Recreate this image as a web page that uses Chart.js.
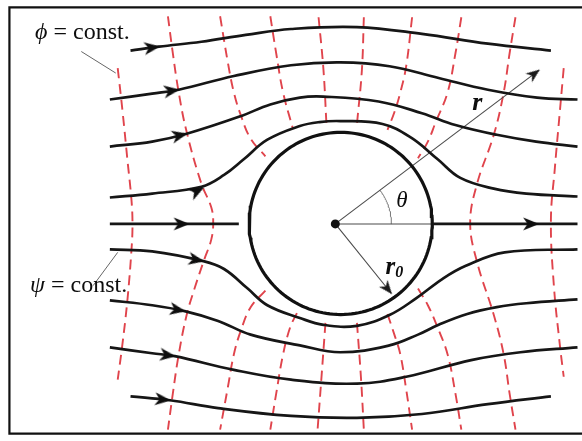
<!DOCTYPE html>
<html>
<head>
<meta charset="utf-8">
<script src="https://cdn.jsdelivr.net/npm/chart.js@4/dist/chart.umd.min.js"></script>
<style>
  html, body { margin: 0; padding: 0; background: #ffffff; }
  #wrap { width: 582px; height: 441px; }
</style>
</head>
<body>
<div id="wrap"><canvas id="flow" width="582" height="441"></canvas></div>
<script>
// Potential flow past a cylinder: streamlines (psi = const.) and
// equipotential lines (phi = const.). Origin on the cylinder axis, y upward,
// one unit is roughly one pixel of the drawing.

// Streamlines, top to bottom
const psi1 = [[-208,177],[-179,181],[-136,186],[-91,193],[-45,199],[22,201],[88,194],[155,184],[219,177]];
const psi2 = [[-229,127],[-186,133],[-159,137],[-103,151],[-45,162],[5,165],[55,161],[105,149],[155,137],[205,129],[246,127]];
const psi3 = [[-229,79],[-186,84],[-151,92],[-96,110],[-66,122],[-36,129],[-12,130],[44,125],[88,113],[122,101],[164,91],[204,84],[246,79]];
const psi4 = [[-229,27],[-186,31],[-136,38],[-113,50],[-93,66],[-69,86],[-36,100],[-16,104],[5,105],[48,102],[77,88],[104,66],[127,47],[161,36],[194,31],[246,28]];
const psi5Upstream = [[-229,0],[-98,0]];
const psi5Downstream = [[99,0],[246,0]];
const psi6 = [[-229,-26],[-186,-28],[-134,-38],[-113,-46],[-89,-66],[-69,-83],[-36,-96],[-12,-103],[22,-104],[55,-93],[82,-76],[109,-56],[132,-43],[172,-29],[246,-26]];
const psi7 = [[-229,-78],[-186,-83],[-153,-89],[-119,-99],[-86,-113],[-36,-124],[5,-131],[55,-124],[84,-113],[105,-103],[134,-92],[164,-85],[194,-81],[246,-77]];
const psi8 = [[-229,-126],[-186,-132],[-163,-135],[-103,-149],[-45,-159],[22,-163],[72,-156],[138,-139],[188,-131],[246,-126]];
const psi9 = [[-208,-176],[-168,-180],[-119,-188],[-45,-196],[22,-198],[88,-194],[155,-184],[219,-176]];

// Arrow tips placed on the streamlines (flow from left to right)
const arrowTips = [[-179,181],[-159,137],[-151,92],[-134,37],[-149,0],[206,0],[-134,-38],[-153,-89],[-163,-135],[-168,-180]];

// Equipotential lines, left to right (split above / below the cylinder)
const phiA = [[-221,159],[-216,114],[-211,64],[-207,24],[-206,-1],[-207,-26],[-211,-76],[-216,-121],[-221,-159]];
const phiB = [[-170,212],[-165,174],[-159,134],[-151,94],[-136,41],[-126,17],[-124,1],[-126,-16],[-133,-36],[-143,-66],[-151,-93],[-159,-133],[-165,-173],[-170,-210]];
const phiCTop = [[-117,212],[-109,164],[-103,134],[-96,111],[-86,87],[-71,69]];
const phiCBottom = [[-71,-68],[-86,-85],[-96,-109],[-103,-133],[-109,-166],[-117,-210]];
const phiDTop = [[-66,212],[-60,174],[-53,134],[-43,97]];
const phiDBottom = [[-39,-91],[-46,-106],[-53,-133],[-60,-173],[-66,-210]];
const phiETop = [[-17,211],[-12,157],[-9,102]];
const phiEBottom = [[-10,-101],[-14,-156],[-18,-210]];
const phiFTop = [[29,211],[27,157],[22,102]];
const phiFBottom = [[22,-101],[26,-156],[29,-210]];
const phiGTop = [[78,211],[72,161],[66,134],[60,114],[53,96]];
const phiGBottom = [[53,-92],[60,-113],[66,-133],[72,-169],[78,-210]];
const phiHTop = [[128,211],[122,174],[114,134],[102,104],[94,84],[84,67]];
const phiHBottom = [[84,-66],[94,-83],[104,-106],[114,-133],[122,-173],[128,-210]];
const phiI = [[183,211],[177,174],[171,134],[161,91],[144,41],[137,1],[144,-39],[161,-93],[171,-133],[177,-173],[183,-210]];
const phiJ = [[232,159],[228,114],[223,57],[219,4],[222,-63],[228,-123],[232,-156]];

// Cylinder, polar coordinate vectors and callouts
const cylinderCentre = [5.5, 0.5];
const cylinderRadius = 93;
const vectorR = [[0,0],[207,157]];
const vectorR0 = [[0,0],[57,-71]];
const thetaRef = [[0,0],[99,0]];
const thetaArcRadius = 57;
const phiLeader = [[-258,176],[-223,154]];
const psiLeader = [[-246,-63],[-221,-29]];
const frame = [[260,221],[-331,221],[-331,-214],[260,-214]];

const pts = arr => arr.map(([x, y]) => ({ x, y }));

function circlePoints(c, r, a0, a1, n) {
  const out = [];
  for (let i = 0; i <= n; i++) {
    const a = a0 + (a1 - a0) * i / n;
    out.push({ x: c[0] + r * Math.cos(a), y: c[1] + r * Math.sin(a) });
  }
  return out;
}

function makeHead(len, half, notch, color) {
  const size = Math.ceil(len * 2 + 6);
  const cv = document.createElement('canvas');
  cv.width = size; cv.height = size;
  const g = cv.getContext('2d');
  const m = size / 2;
  g.fillStyle = color;
  g.beginPath();
  g.moveTo(m + 1, m);
  g.lineTo(m + 1 - len, m - half);
  g.lineTo(m + 1 - len + notch, m);
  g.lineTo(m + 1 - len, m + half);
  g.closePath();
  g.fill();
  return cv;
}

const INK = '#161616';
const THIN = '#4a4a4a';
const RED = '#e0444c';
const flowHead = makeHead(16, 6.5, 4.5, '#0e0e0e');
const vectorHead = makeHead(14, 5.5, 4, '#1a1a1a');

const streamlines = [psi1, psi2, psi3, psi4, psi5Upstream, psi5Downstream, psi6, psi7, psi8, psi9];
const equipotentials = [phiA, phiB, phiCTop, phiCBottom, phiDTop, phiDBottom, phiETop, phiEBottom,
  phiFTop, phiFBottom, phiGTop, phiGBottom, phiHTop, phiHBottom, phiI, phiJ];

// direction of the streamline passing through a given tip, in screen degrees
function headingAt(chart, tip) {
  const sx = chart.scales.x, sy = chart.scales.y;
  let best = null, bestD = Infinity;
  for (const line of streamlines) {
    for (let i = 0; i < line.length - 1; i++) {
      const [x0, y0] = line[i], [x1, y1] = line[i + 1];
      if (tip[0] < x0 || tip[0] > x1) continue;
      const t = (tip[0] - x0) / (x1 - x0);
      const d = Math.abs(y0 + t * (y1 - y0) - tip[1]);
      if (d < bestD) { bestD = d; best = [x0, y0, x1, y1]; }
    }
  }
  if (!best) return 0;
  const dx = sx.getPixelForValue(best[2]) - sx.getPixelForValue(best[0]);
  const dy = sy.getPixelForValue(best[3]) - sy.getPixelForValue(best[1]);
  return Math.atan2(dy, dx) * 180 / Math.PI;
}

function vectorHeading(chart, v) {
  const sx = chart.scales.x, sy = chart.scales.y;
  const dx = sx.getPixelForValue(v[1][0]) - sx.getPixelForValue(v[0][0]);
  const dy = sy.getPixelForValue(v[1][1]) - sy.getPixelForValue(v[0][1]);
  return Math.atan2(dy, dx) * 180 / Math.PI;
}

const SERIF = '"Liberation Serif", "Times New Roman", "DejaVu Serif", serif';
const labels = [
  { at: [-305, 189], runs: [
    { text: '\u03D5', font: 'italic 24px ' + SERIF },
    { text: ' = const.', font: '24px ' + SERIF }] },
  { at: [-310, -69], runs: [
    { text: '\u03C8', font: 'italic 24px ' + SERIF },
    { text: ' = const.', font: '24px ' + SERIF }] },
  { at: [139, 116], runs: [{ text: 'r', font: 'bold italic 26px ' + SERIF }] },
  { at: [62, 17], runs: [{ text: '\u03B8', font: 'italic 23px ' + SERIF }] },
  { at: [51, -51], runs: [
    { text: 'r', font: 'bold italic 25px ' + SERIF },
    { text: '0', font: 'bold italic 16px ' + SERIF, dy: 3 }] }
];

const labelPlugin = {
  id: 'diagramLabels',
  afterDatasetsDraw(chart) {
    const { ctx } = chart;
    const sx = chart.scales.x, sy = chart.scales.y;
    ctx.save();
    ctx.fillStyle = '#0d0d0d';
    ctx.textBaseline = 'alphabetic';
    ctx.textAlign = 'left';
    for (const lab of labels) {
      let px = sx.getPixelForValue(lab.at[0]);
      const py = sy.getPixelForValue(lab.at[1]);
      for (const run of lab.runs) {
        ctx.font = run.font;
        ctx.fillText(run.text, px, py + (run.dy || 0));
        px += ctx.measureText(run.text).width;
      }
    }
    ctx.restore();
  }
};

const lineSet = (data, color, width, extra) => Object.assign({
  data, showLine: true, borderColor: color, borderWidth: width,
  pointRadius: 0, pointHoverRadius: 0, fill: false, clip: false, tension: 0.4
}, extra || {});

const datasets = [];

// arrowheads on the streamlines
datasets.push({
  data: pts(arrowTips), showLine: false, clip: false,
  pointStyle: flowHead, pointRadius: 1, pointHoverRadius: 1,
  rotation: c => headingAt(c.chart, arrowTips[c.dataIndex])
});
// arrowheads of r and r0
datasets.push({
  data: pts([vectorR[1], vectorR0[1]]), showLine: false, clip: false,
  pointStyle: vectorHead, pointRadius: 1, pointHoverRadius: 1,
  rotation: c => vectorHeading(c.chart, c.dataIndex === 0 ? vectorR : vectorR0)
});
// centre dot
datasets.push({
  data: [{ x: 0, y: 0 }], showLine: false, clip: false,
  pointStyle: 'circle', pointRadius: 4.5, backgroundColor: '#111', borderColor: '#111', borderWidth: 0
});
for (const s of streamlines) datasets.push(lineSet(pts(s), INK, 2.7));
datasets.push(lineSet(circlePoints(cylinderCentre, cylinderRadius, 0, 2 * Math.PI, 160), '#111', 3.2, { tension: 0 }));
datasets.push(lineSet(pts(vectorR), THIN, 1.1, { tension: 0 }));
datasets.push(lineSet(pts(vectorR0), THIN, 1.1, { tension: 0 }));
datasets.push(lineSet(pts(thetaRef), THIN, 1.1, { tension: 0 }));
datasets.push(lineSet(circlePoints([0, 0], thetaArcRadius, 0, Math.atan2(vectorR[1][1], vectorR[1][0]), 30), '#777', 1, { tension: 0 }));
datasets.push(lineSet(pts(phiLeader), '#666', 1, { tension: 0 }));
datasets.push(lineSet(pts(psiLeader), '#666', 1, { tension: 0 }));
for (const e of equipotentials) datasets.push(lineSet(pts(e), RED, 1.9, { borderDash: [10, 6] }));
datasets.push(lineSet(pts(frame), '#111', 2.2, { tension: 0 }));

new Chart(document.getElementById('flow'), {
  type: 'scatter',
  data: { datasets },
  options: {
    responsive: false,
    devicePixelRatio: 1,
    animation: false,
    events: [],
    layout: { padding: 0 },
    plugins: { legend: { display: false }, tooltip: { enabled: false } },
    scales: {
      x: { type: 'linear', min: -336, max: 246, display: false },
      y: { type: 'linear', min: -217, max: 224, display: false }
    }
  },
  plugins: [labelPlugin]
});
</script>
</body>
</html>
